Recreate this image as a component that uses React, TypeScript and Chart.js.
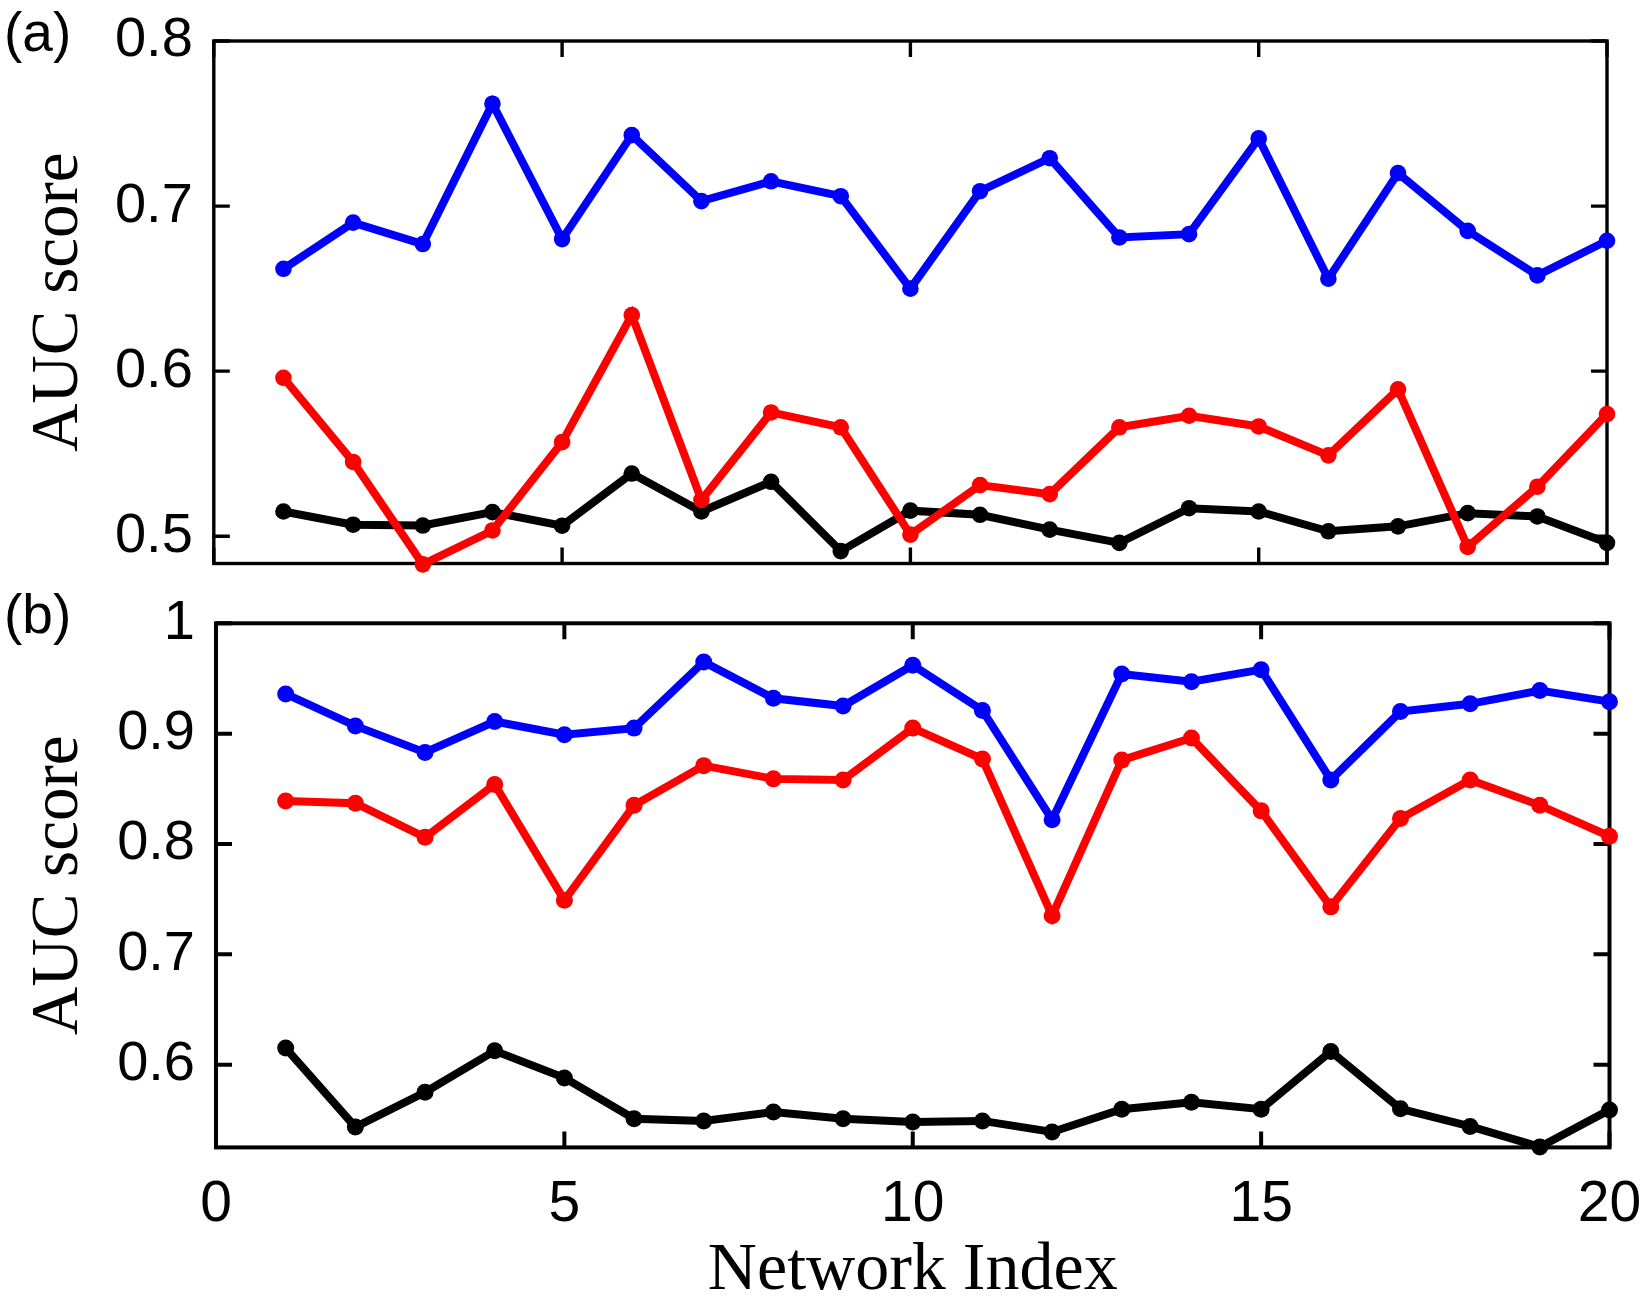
import React, { useEffect, useRef } from 'react';
import { Chart, registerables } from 'chart.js';

Chart.register(...registerables);

// network index (x) for every point
const networkIndex = [1, 2, 3, 4, 5, 6, 7, 8, 9, 10, 11, 12, 13, 14, 15, 16, 17, 18, 19, 20];

// panel (a)
const blueA = [0.662, 0.690, 0.677, 0.762, 0.680, 0.743, 0.703, 0.715, 0.706, 0.650, 0.709, 0.729, 0.681, 0.683, 0.741, 0.656, 0.720, 0.685, 0.658, 0.679];
const redA = [0.596, 0.545, 0.483, 0.5035, 0.557, 0.634, 0.522, 0.575, 0.566, 0.501, 0.531, 0.5255, 0.566, 0.573, 0.5665, 0.549, 0.589, 0.4935, 0.530, 0.574];
const blackA = [0.515, 0.507, 0.5065, 0.5146, 0.5064, 0.538, 0.515, 0.533, 0.491, 0.5155, 0.513, 0.504, 0.496, 0.517, 0.515, 0.503, 0.506, 0.514, 0.512, 0.496];

// panel (b)
const blueB = [0.936, 0.907, 0.883, 0.911, 0.899, 0.905, 0.965, 0.932, 0.925, 0.962, 0.921, 0.822, 0.954, 0.947, 0.958, 0.858, 0.920, 0.927, 0.939, 0.929];
const redB = [0.839, 0.837, 0.806, 0.854, 0.749, 0.835, 0.871, 0.859, 0.858, 0.905, 0.877, 0.735, 0.876, 0.896, 0.830, 0.743, 0.823, 0.858, 0.835, 0.807];
const blackB = [0.615, 0.5435, 0.575, 0.6125, 0.588, 0.551, 0.549, 0.557, 0.551, 0.548, 0.549, 0.539, 0.5596, 0.566, 0.5596, 0.612, 0.560, 0.544, 0.5254, 0.559];

// axis ticks
const xTicks = [0, 5, 10, 15, 20];
const yTicksA = [0.5, 0.6, 0.7, 0.8];
const yTicksB = [0.6, 0.7, 0.8, 0.9, 1];

const SANS = "'Liberation Sans', Arial, Helvetica, sans-serif";
const SERIF = "'Liberation Serif', 'Times New Roman', serif";
const W = 1642;

// box around the plot with inward ticks on all four sides
const framePlugin = {
    id: 'frame',
    beforeDatasetsDraw(chart: any, _args: any, opts: any) {
        const { ctx, chartArea: a, scales } = chart;
        const L = 16;
        ctx.save();
        ctx.strokeStyle = '#000';
        ctx.lineWidth = opts.lineWidth;
        ctx.strokeRect(a.left, a.top, a.right - a.left, a.bottom - a.top);
        ctx.beginPath();
        scales.x.ticks.forEach((t: any) => {
            const px = scales.x.getPixelForValue(t.value);
            ctx.moveTo(px, a.bottom); ctx.lineTo(px, a.bottom - L);
            ctx.moveTo(px, a.top); ctx.lineTo(px, a.top + L);
        });
        scales.y.ticks.forEach((t: any) => {
            const py = scales.y.getPixelForValue(t.value);
            ctx.moveTo(a.left, py); ctx.lineTo(a.left + L, py);
            ctx.moveTo(a.right, py); ctx.lineTo(a.right - L, py);
        });
        ctx.stroke();
        if (opts.label) {
            ctx.fillStyle = '#000';
            ctx.font = `55px ${SANS}`;
            ctx.textAlign = 'left';
            ctx.textBaseline = 'alphabetic';
            ctx.fillText(opts.label, opts.labelX, opts.labelY);
        }
        ctx.restore();
    },
};

// keep the plot box where it is set, not pushed in by label overhang
const noPad = (s: any) => {
    s.paddingTop = 0;
    s.paddingBottom = 0;
    s.paddingLeft = 0;
    s.paddingRight = 0;
};

interface PanelProps {
    blue: number[];
    red: number[];
    black: number[];
    yMin: number;
    yMax: number;
    yTicks: number[];
    height: number;
    padTop: number;
    padRight: number;
    padBottom: number;
    yWidth: number;
    xHeight: number;
    showX: boolean;
    label: string;
    labelY: number;
    lineWidth: number;
    pointRadius: number;
    frameWidth: number;
}

const Panel: React.FC<PanelProps> = (p) => {
    const chartRef = useRef<HTMLCanvasElement>(null);
    const chartInstance = useRef<Chart | null>(null);

    useEffect(() => {
        if (!chartRef.current) return;
        if (chartInstance.current) chartInstance.current.destroy();
        const ctx = chartRef.current.getContext('2d');
        if (!ctx) return;

        const mk = (label: string, values: number[], color: string) => ({
            label,
            data: networkIndex.map((x, i) => ({ x, y: values[i] })),
            borderColor: color,
            backgroundColor: color,
            borderWidth: p.lineWidth,
            pointRadius: p.pointRadius,
            pointBorderWidth: 0,
            pointBackgroundColor: color,
            tension: 0,
            clip: false as const,
        });

        chartInstance.current = new Chart(ctx, {
            type: 'line',
            data: {
                datasets: [
                    mk('blue', p.blue, '#0000ff'),
                    mk('red', p.red, '#ff0000'),
                    mk('black', p.black, '#000000'),
                ],
            },
            plugins: [framePlugin],
            options: {
                responsive: false,
                animation: false,
                layout: { padding: { top: p.padTop, right: p.padRight, bottom: p.padBottom, left: 0 } },
                plugins: {
                    legend: { display: false },
                    tooltip: { enabled: false },
                    // @ts-ignore
                    frame: { label: p.label, labelX: 4, labelY: p.labelY, lineWidth: p.frameWidth },
                },
                scales: {
                    x: {
                        type: 'linear',
                        min: 0,
                        max: 20,
                        grid: { display: false, drawTicks: false },
                        border: { display: false },
                        afterBuildTicks: (s: any) => { s.ticks = xTicks.map((v) => ({ value: v })); },
                        afterFit: (s: any) => { s.height = p.xHeight; noPad(s); },
                        ticks: {
                            display: p.showX,
                            padding: 24,
                            color: '#000',
                            font: { size: 57, family: SANS },
                            maxRotation: 0,
                            autoSkip: false,
                        },
                        title: {
                            display: p.showX,
                            text: 'Network Index',
                            color: '#000',
                            font: { size: 68, family: SERIF },
                            padding: 0,
                        },
                    },
                    y: {
                        type: 'linear',
                        min: p.yMin,
                        max: p.yMax,
                        grid: { display: false, drawTicks: false },
                        border: { display: false },
                        afterBuildTicks: (s: any) => { s.ticks = p.yTicks.map((v) => ({ value: v })); },
                        afterFit: (s: any) => { s.width = p.yWidth; noPad(s); },
                        ticks: {
                            padding: 21,
                            color: '#000',
                            font: { size: 56, family: SANS },
                            callback: (v: any) => String(Number(Number(v).toFixed(1))),
                        },
                        title: {
                            display: true,
                            text: 'AUC score',
                            color: '#000',
                            font: { size: 67, family: SERIF },
                            padding: { top: 19, bottom: 0 },
                        },
                    },
                },
            },
        });

        return () => {
            if (chartInstance.current) {
                chartInstance.current.destroy();
                chartInstance.current = null;
            }
        };
    }, []);

    return <canvas ref={chartRef} width={W} height={p.height} style={{ display: 'block' }} />;
};

export default function App() {
    return (
        <div style={{ position: 'absolute', left: 0, top: 0, width: W, height: 1299, overflow: 'hidden', background: '#fff' }}>
            <Panel
                blue={blueA} red={redA} black={blackA}
                yMin={0.4835} yMax={0.8} yTicks={yTicksA}
                height={590} padTop={41} padRight={35} padBottom={26.5}
                yWidth={213.8} xHeight={0} showX={false}
                label="(a)" labelY={51}
                lineWidth={8} pointRadius={8.3} frameWidth={3.4}
            />
            <Panel
                blue={blueB} red={redB} black={blackB}
                yMin={0.525} yMax={1} yTicks={yTicksB}
                height={722} padTop={33.3} padRight={32.5} padBottom={0}
                yWidth={216} xHeight={164.6} showX={true}
                label="(b)" labelY={43}
                lineWidth={8} pointRadius={8.5} frameWidth={4}
            />
        </div>
    );
}
